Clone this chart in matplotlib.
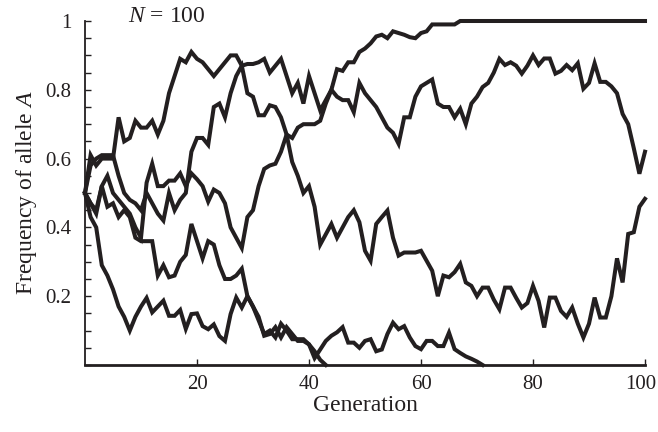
import numpy as np
import matplotlib
matplotlib.use("Agg")
import matplotlib.pyplot as plt
from matplotlib.ticker import MultipleLocator
from matplotlib.transforms import ScaledTranslation

generations = np.arange(0, 101)

nan = float("nan")

line1 = ([0.50, 0.61, 0.58, 0.60, 0.60, 0.60, 0.72, 0.65, 0.66, 0.71, 0.69, 0.69, 0.71, 0.67, 0.71, 0.79, 0.84, 0.89, 0.88, 0.91]
         + [0.89, 0.88, 0.86, 0.84, 0.86, 0.88, 0.90, 0.90, 0.87, 0.875, 0.875, 0.88, 0.89, 0.85, 0.87, 0.89, 0.84, 0.79, 0.82, 0.76, 0.84, 0.79, 0.74, 0.77, 0.80]
         + [0.86, 0.855, 0.88, 0.88, 0.91, 0.92, 0.935, 0.955, 0.96, 0.95, 0.97, 0.965, 0.96, 0.953, 0.95, 0.965, 0.97, 0.99, 0.99, 0.99, 0.99, 0.99]
         + [1.0] * 34)

line2 = ([0.50, 0.47, 0.44, 0.52, 0.55, 0.50, 0.48, 0.46, 0.44, 0.40, 0.37, 0.53, 0.585, 0.52, 0.52, 0.536, 0.536, 0.557, 0.52, 0.557, 0.54, 0.52, 0.475, 0.51, 0.50, 0.47, 0.40, 0.37, 0.34]
         + [0.43, 0.45, 0.52, 0.57, 0.58, 0.585, 0.62, 0.67, 0.66, 0.69, 0.70, 0.70, 0.70, 0.71, 0.76, 0.80]
         + [0.78, 0.77, 0.77, 0.735, 0.82, 0.79, 0.77, 0.75, 0.72, 0.69, 0.675, 0.643, 0.72, 0.72, 0.78, 0.81, 0.82, 0.83, 0.76, 0.75, 0.75, 0.72]
         + [0.745, 0.70, 0.76, 0.78, 0.808, 0.82, 0.85, 0.89, 0.872, 0.88, 0.87, 0.847, 0.87, 0.90, 0.872, 0.891, 0.891, 0.847, 0.855, 0.872, 0.857, 0.877, 0.803, 0.82, 0.877, 0.823, 0.823, 0.81, 0.79, 0.73, 0.70, 0.63, 0.556, 0.62])

line3 = ([0.50, 0.58, 0.60, 0.61, 0.61, 0.61, 0.55, 0.50, 0.48, 0.47, 0.45, 0.50, 0.47, 0.44, 0.42, 0.50, 0.45, 0.48, 0.50, 0.62, 0.66, 0.66, 0.64, 0.75, 0.76, 0.72, 0.79, 0.84, 0.87]
         + [0.79, 0.78, 0.726, 0.726, 0.755, 0.75, 0.72, 0.67, 0.59, 0.55, 0.50, 0.52, 0.46, 0.35, 0.38, 0.41]
         + [0.37, 0.40, 0.43, 0.45, 0.415, 0.332, 0.303, 0.41, 0.43, 0.449, 0.37, 0.318, 0.327, 0.327, 0.327, 0.332, 0.303, 0.274, 0.20, 0.26, 0.255, 0.27]
         + [0.294, 0.24, 0.23, 0.20, 0.225, 0.225, 0.19, 0.162, 0.225, 0.225, 0.195, 0.167, 0.18, 0.23, 0.186, 0.109, 0.196, 0.196, 0.157, 0.14, 0.167, 0.12, 0.08, 0.12, 0.196, 0.138, 0.138, 0.20, 0.31, 0.24, 0.381, 0.386, 0.46, 0.483])

line4 = ([0.50, 0.47, 0.45, 0.52, 0.46, 0.47, 0.43, 0.45, 0.43, 0.37, 0.36, 0.36, 0.36, 0.26, 0.29, 0.255, 0.26, 0.30, 0.32, 0.41, 0.36, 0.31, 0.36, 0.35, 0.29, 0.25, 0.25, 0.26, 0.28]
         + [0.20, 0.17, 0.13, 0.09, 0.10, 0.08, 0.12, 0.10, 0.075, 0.075, 0.075, 0.06, 0.04, 0.015, 0.0]
         + [nan] * 57)

line5 = ([0.50, 0.43, 0.40, 0.29, 0.26, 0.22, 0.17, 0.14, 0.10, 0.14, 0.17, 0.195, 0.153, 0.17, 0.187, 0.143, 0.143, 0.16, 0.105, 0.148, 0.15, 0.113, 0.104, 0.118, 0.084, 0.07, 0.148, 0.196, 0.167]
         + [0.20, 0.17, 0.14, 0.085, 0.09, 0.11, 0.08, 0.11, 0.09, 0.07, 0.07, 0.06, 0.02, 0.045, 0.07, 0.085, 0.095, 0.11, 0.065, 0.065, 0.05, 0.07, 0.075, 0.04, 0.045, 0.09, 0.123, 0.104, 0.113, 0.08, 0.055, 0.046, 0.07, 0.07, 0.055, 0.055, 0.094, 0.046, 0.035, 0.025, 0.018, 0.01, 0.0]
         + [nan] * 29)

series = [line1, line2, line3, line4, line5]

x_ticks = [20, 40, 60, 80, 100]
y_ticks = [0.2, 0.4, 0.6, 0.8, 1.0]
y_tick_labels = ["0.2", "0.4", "0.6", "0.8", "1"]

plt.rcParams["font.family"] = ["Liberation Serif", "DejaVu Serif"]
plt.rcParams["mathtext.fontset"] = "custom"
plt.rcParams["mathtext.it"] = "Liberation Serif:italic"
plt.rcParams["mathtext.rm"] = "Liberation Serif"

fig = plt.figure(figsize=(6.58, 4.32), dpi=100)
ax = fig.add_axes([85 / 658, 1 - 365 / 432, 560 / 658, (365 - 21) / 432])

for s in series:
    ax.plot(generations, s, color="#231f20", lw=2.9, solid_joinstyle="miter", clip_on=False, zorder=3)

ax.set_xlim(0, 100)
ax.set_ylim(0, 1)
ax.spines["top"].set_visible(False)
ax.spines["right"].set_visible(False)
ax.spines["left"].set_linewidth(1.3)
ax.spines["bottom"].set_linewidth(2.0)
ax.spines["left"].set_color("#231f20")
ax.spines["bottom"].set_color("#231f20")

ax.set_xticks(x_ticks)
ax.set_yticks(y_ticks)
ax.set_yticklabels(y_tick_labels)
ax.yaxis.set_minor_locator(MultipleLocator(0.05))
ax.tick_params(axis="both", which="both", direction="in", color="#231f20", width=1.0, length=4,
               labelsize=15, colors="#231f20")
ax.tick_params(axis="x", pad=7)
ax.tick_params(axis="y", pad=10)

fig.canvas.draw()
last = ax.get_xticklabels()[-1]
last.set_transform(last.get_transform() + ScaledTranslation(-4 / 100, 0, fig.dpi_scale_trans))

ax.set_xlabel("Generation", fontsize=17, color="#231f20", labelpad=1)
ax.set_ylabel("Frequency of allele $A$", fontsize=17, color="#231f20", labelpad=4)

fig.text(128 / 658, 1 - 17 / 432, "$N$ = 100", fontsize=17, color="#231f20", va="center", ha="left")

fig.savefig("out.png", dpi=100)
